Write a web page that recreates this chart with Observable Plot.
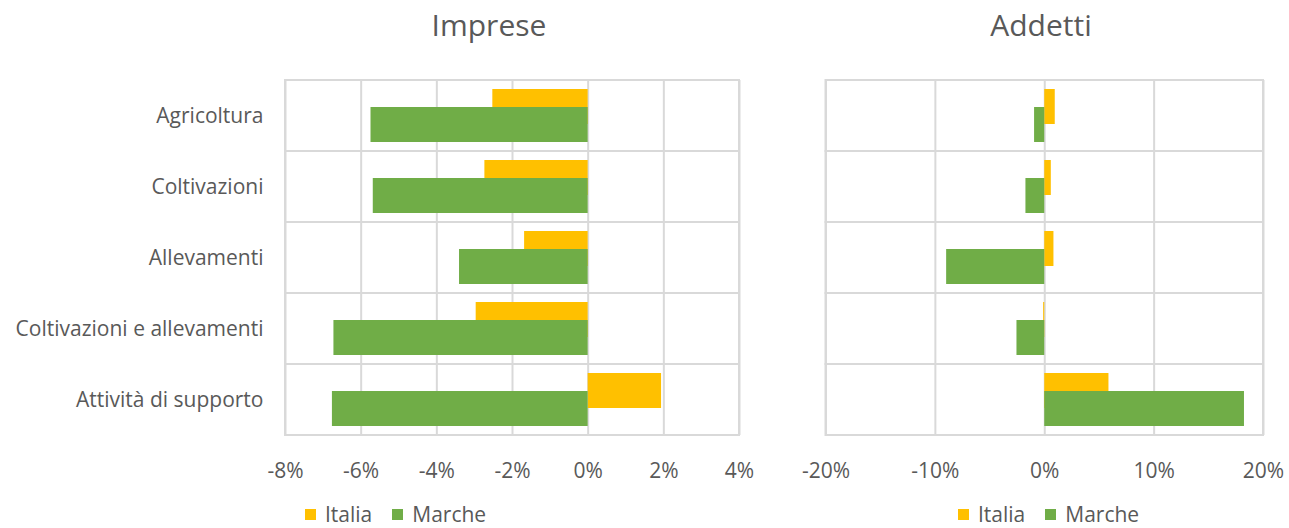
<!DOCTYPE html>
<html>
<head>
<meta charset="utf-8">
<script src="https://cdn.jsdelivr.net/npm/d3@7"></script>
<script src="https://cdn.jsdelivr.net/npm/@observablehq/plot@0.6"></script>
<style>
  body { margin: 0; background: #fff; }
  #wrap { position: relative; width: 1289px; height: 528px; overflow: hidden; font-family: "Open Sans", sans-serif; color: #595959; }
  .panel { position: absolute; top: 0; }
  .title { position: absolute; font-size: 30px; transform: translateX(-50%); white-space: nowrap; }
  .legend { position: absolute; font-size: 21px; line-height: 21px; white-space: nowrap; display: flex; align-items: center; }
  .sw { display: inline-block; width: 11px; height: 11px; margin-right: 9px; }
  .item { display: inline-flex; align-items: center; margin-right: 20px; }
</style>
</head>
<body>
<div id="wrap"></div>
<script>
const categories = ["Agricoltura", "Coltivazioni", "Allevamenti", "Coltivazioni e allevamenti", "Attività di supporto"];
const seriesNames = ["Italia", "Marche"];
const seriesColors = ["#FFC000", "#70AD47"];
const impreseItalia = [-2.52, -2.73, -1.68, -2.96, 1.94];
const impreseMarche = [-5.74, -5.68, -3.40, -6.72, -6.76];
const addettiItalia = [0.96, 0.60, 0.84, -0.10, 5.87];
const addettiMarche = [-0.93, -1.72, -8.97, -2.54, 18.26];
const impreseTicks = [-8, -6, -4, -2, 0, 2, 4];
const addettiTicks = [-20, -10, 0, 10, 20];

const wrap = document.getElementById("wrap");
const grid = "#d9d9d9";

function panel({italia, marche, ticks, width, marginLeft, marginRight, showY}) {
  const rows = categories.map((c, i) => ({c, italia: italia[i], marche: marche[i]}));
  const lo = ticks[0], hi = ticks[ticks.length - 1];
  return Plot.plot({
    width, height: 490,
    marginLeft, marginRight, marginTop: 80, marginBottom: 55,
    style: {fontFamily: "'Open Sans', sans-serif", fontSize: "21px", color: "#595959", background: "transparent", overflow: "visible"},
    x: {domain: [lo, hi], ticks, tickFormat: d => d + "%", tickSize: 0, tickPadding: 28, label: null},
    y: {domain: categories, padding: 0, tickSize: 0, tickPadding: 22, label: null, axis: showY ? "left" : null},
    marks: [
      Plot.ruleX(ticks, {stroke: grid, strokeWidth: 2}),
      Plot.barX(categories, {y: d => d, x1: () => lo, x2: () => hi, fill: "none", stroke: grid, strokeWidth: 2}),
      Plot.barX(rows, {y: "c", x: "italia", fill: seriesColors[0], insetTop: 9, insetBottom: 27}),
      Plot.barX(rows, {y: "c", x: "marche", fill: seriesColors[1], insetTop: 27, insetBottom: 9})
    ]
  });
}

function place(el, left) {
  el.classList.add("panel");
  el.style.left = left + "px";
  wrap.appendChild(el);
}

place(panel({italia: impreseItalia, marche: impreseMarche, ticks: impreseTicks, width: 760, marginLeft: 285, marginRight: 21, showY: true}), 0);
place(panel({italia: addettiItalia, marche: addettiMarche, ticks: addettiTicks, width: 529, marginLeft: 65.5, marginRight: 26, showY: false}), 760);

function title(text, cx) {
  const d = document.createElement("div");
  d.className = "title";
  d.textContent = text;
  d.style.left = cx + "px";
  d.style.top = "4px";
  wrap.appendChild(d);
}
title("Imprese", 489);
title("Addetti", 1041);

function legend(left, top) {
  const d = document.createElement("div");
  d.className = "legend";
  d.style.left = left + "px";
  d.style.top = top + "px";
  seriesNames.forEach((n, i) => {
    const it = document.createElement("span");
    it.className = "item";
    const sw = document.createElement("span");
    sw.className = "sw";
    sw.style.background = seriesColors[i];
    it.appendChild(sw);
    it.appendChild(document.createTextNode(n));
    d.appendChild(it);
  });
  wrap.appendChild(d);
}
legend(305, 504);
legend(958, 504);
</script>
</body>
</html>
